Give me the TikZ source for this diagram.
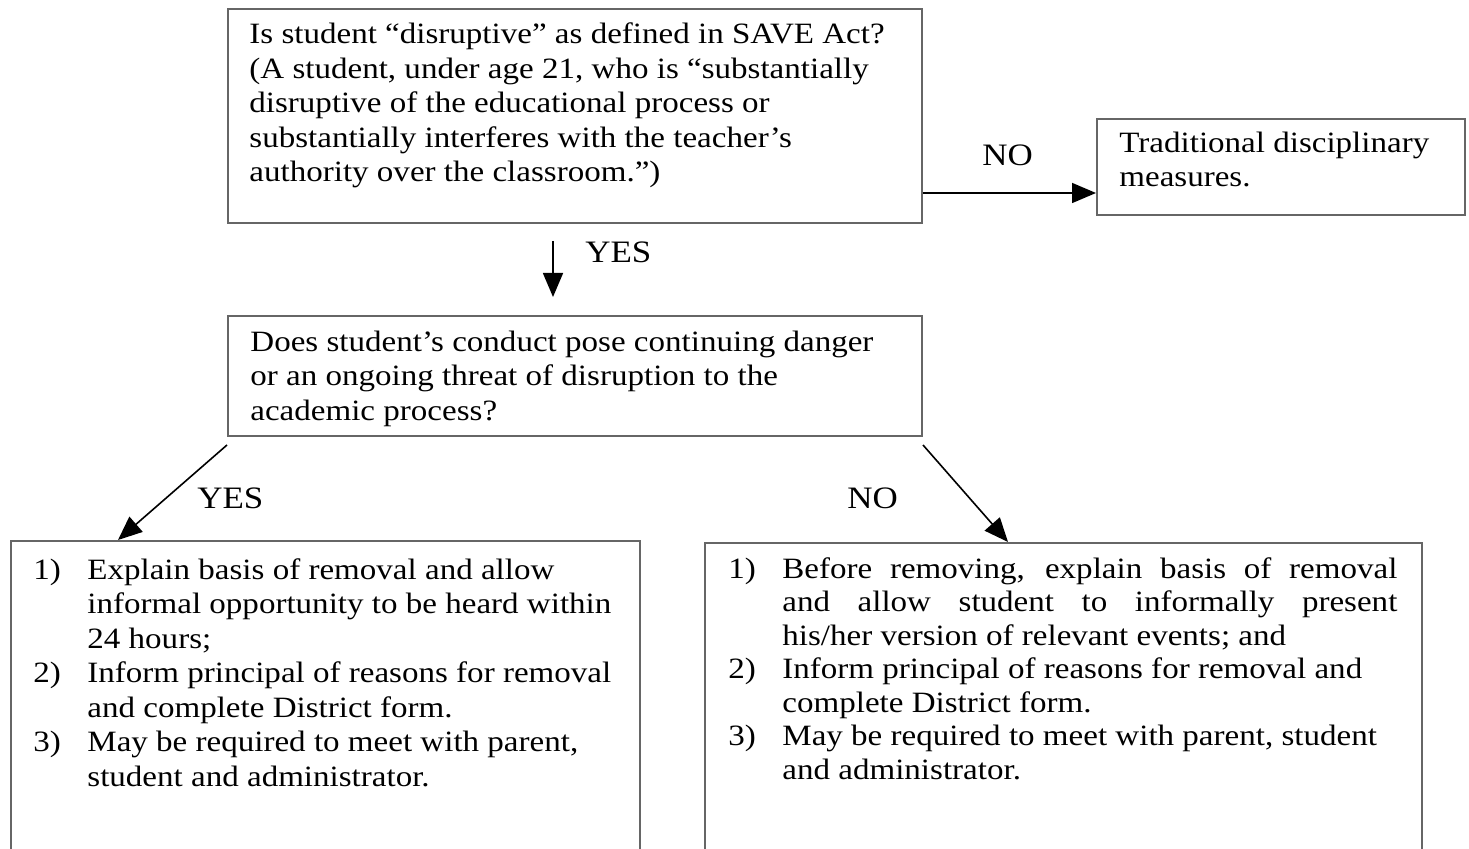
\documentclass[tikz,border=0pt]{standalone}
\usepackage{fontspec}
\setmainfont[FakeStretch=1.12]{Liberation Serif}
\usetikzlibrary{arrows.meta,calc}
\begin{document}
\begin{tikzpicture}[x=0.5pt,y=-0.5pt,
  box/.style={draw=black!60, line width=1pt, inner sep=0pt, anchor=north west},
  txt/.style={inner sep=0pt, anchor=north west, font=\fontsize{14.75pt}{17.25pt}\selectfont},
  txtb/.style={inner sep=0pt, anchor=north west, font=\fontsize{14.75pt}{16.75pt}\selectfont},
  lbl/.style={inner sep=0pt, anchor=base west, font=\fontsize{15.6pt}{18pt}\selectfont},
  arr/.style={-{Triangle[length=12pt,width=10pt]}, line width=0.8pt, draw=black}]
\useasboundingbox (0,0) rectangle (1469,849);
\clip (0,0) rectangle (1469,849);

% boxes
\node[box, minimum width=347pt, minimum height=107pt] (q1) at (227,8) {};
\node[box, minimum width=184pt, minimum height=48pt] (trad) at (1096,118) {};
\node[box, minimum width=347pt, minimum height=60pt] (q2) at (227,315) {};
\node[box, minimum width=314.5pt, minimum height=180pt] (yesbox) at (10,540) {};
\node[box, minimum width=358.5pt, minimum height=179pt] (nobox) at (704,542) {};

% texts
\node[txt] (t1) at (249,19.35) {\begin{tabular}{@{}l@{}}
Is student “disruptive” as defined in SAVE Act?\\
(A student, under age 21, who is “substantially\\
disruptive of the educational process or\\
substantially interferes with the teacher’s\\
authority over the classroom.”)
\end{tabular}};

\node[txt] (t2) at (1119,127.85) {\begin{tabular}{@{}l@{}}
Traditional disciplinary\\
measures.
\end{tabular}};

\node[txt] (t3) at (250,326.85) {\begin{tabular}{@{}l@{}}
Does student’s conduct pose continuing danger\\
or an ongoing threat of disruption to the\\
academic process?
\end{tabular}};

\node[txt] (t4) at (33,554.85) {\begin{tabular}{@{}l@{}l@{}}
\makebox[27pt][l]{1)} & Explain basis of removal and allow\\
 & informal opportunity to be heard within\\
 & 24 hours;\\
\makebox[27pt][l]{2)} & Inform principal of reasons for removal\\
 & and complete District form.\\
\makebox[27pt][l]{3)} & May be required to meet with parent,\\
 & student and administrator.
\end{tabular}};

\node[txtb] (t5) at (728,554.55) {\begin{tabular}{@{}l@{}l@{}}
\makebox[27pt][l]{1)} & \makebox[307.5pt][s]{Before removing, explain basis of removal}\\
 & \makebox[307.5pt][s]{and allow student to informally present}\\
 & his/her version of relevant events; and\\
\makebox[27pt][l]{2)} & Inform principal of reasons for removal and\\
 & complete District form.\\
\makebox[27pt][l]{3)} & May be required to meet with parent, student\\
 & and administrator.
\end{tabular}};

% labels
\node[lbl] (lno1) at (982,166) {NO};
\node[lbl] (lyes1) at (585,263) {YES};
\node[lbl] (lyes2) at (197,509) {YES};
\node[lbl] (lno2) at (847,509) {NO};

% connectors
\coordinate (nostart) at ($(q1.south east)+(0,-31)$);
\draw[arr] (nostart) -- (nostart -| trad.west);
\draw[arr] ($(q1.south)+(-22,17)$) -- ($(q2.north)+(-22,-18)$);
\draw[arr] ($(q2.south west)+(0,8)$) -- ($(yesbox.north west)+(108,0)$);
\draw[arr] ($(q2.south east)+(0,8)$) -- ($(nobox.north west)+(304,0)$);
\end{tikzpicture}
\end{document}
